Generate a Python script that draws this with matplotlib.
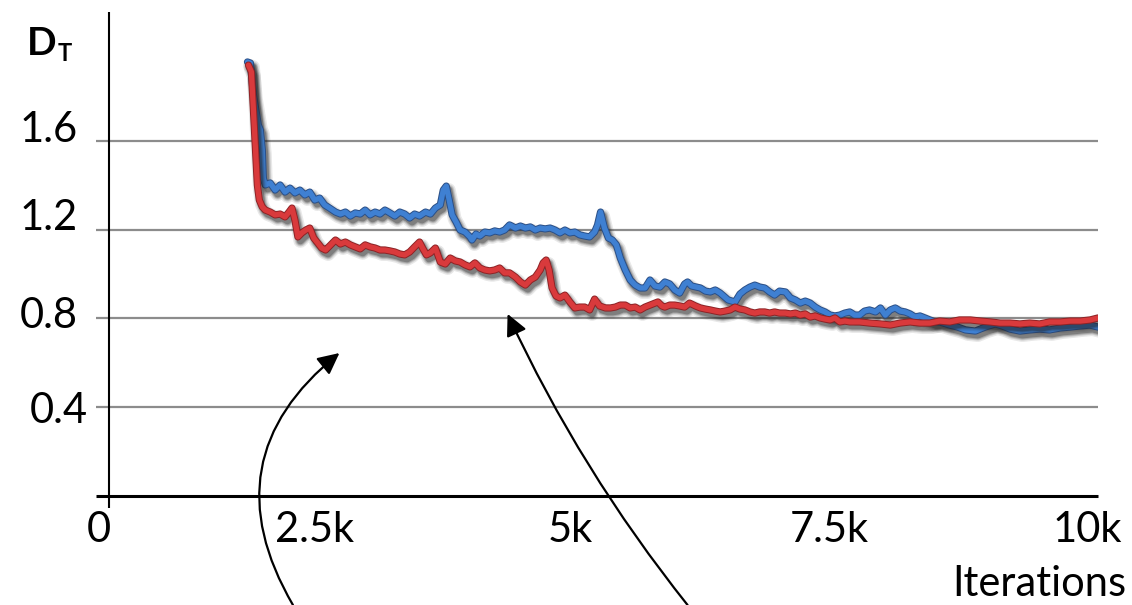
import matplotlib
matplotlib.use("Agg")
import matplotlib.pyplot as plt
import matplotlib.patheffects as pe
from matplotlib.transforms import offset_copy

plt.rcParams["font.family"] = ["Lato", "DejaVu Sans"]

# Training curves: iterations (thousands) vs. D_T
blue_x = [1.40, 1.43, 1.46, 1.51, 1.53, 1.55, 1.56, 1.58, 1.63, 1.68, 1.73, 1.78, 1.83, 1.88,
          1.93, 1.98, 2.03, 2.08, 2.13, 2.18, 2.23, 2.29, 2.34, 2.39, 2.44, 2.49, 2.54, 2.59,
          2.64, 2.69, 2.74, 2.79, 2.84, 2.89, 2.94, 2.99, 3.04, 3.09, 3.14, 3.20, 3.25, 3.30,
          3.35, 3.38, 3.41, 3.44, 3.47, 3.51, 3.55, 3.60, 3.65, 3.67, 3.71, 3.75, 3.80, 3.85,
          3.90, 3.95, 4.00, 4.05, 4.11, 4.16, 4.21, 4.26, 4.31, 4.36, 4.41, 4.46, 4.51, 4.56,
          4.61, 4.66, 4.71, 4.76, 4.81, 4.86, 4.91, 4.94, 4.97, 5.01, 5.05, 5.09, 5.13, 5.17,
          5.22, 5.27, 5.32, 5.37, 5.42, 5.47, 5.52, 5.57, 5.62, 5.67, 5.72, 5.77, 5.82, 5.85,
          5.89, 5.98, 6.03, 6.08, 6.13, 6.18, 6.26, 6.33, 6.38, 6.43, 6.48, 6.53, 6.58, 6.63,
          6.68, 6.73, 6.78, 6.84, 6.89, 6.94, 6.99, 7.04, 7.09, 7.14, 7.19, 7.24, 7.29, 7.34,
          7.39, 7.44, 7.49, 7.54, 7.59, 7.64, 7.69, 7.75, 7.80, 7.85, 7.90, 7.95, 8.00, 8.05,
          8.10, 8.15, 8.20, 8.25, 8.30, 8.35, 8.40, 8.50, 8.58, 8.66, 8.76, 8.86, 8.96, 9.03,
          9.11, 9.21, 9.31, 9.41, 9.51, 9.62, 9.72, 9.82, 9.92, 10.00]
blue_y = [1.955, 1.950, 1.806, 1.671, 1.649, 1.559, 1.432, 1.401, 1.410, 1.378, 1.401, 1.369,
          1.387, 1.365, 1.378, 1.356, 1.369, 1.333, 1.342, 1.311, 1.297, 1.279, 1.270, 1.279,
          1.261, 1.275, 1.270, 1.288, 1.266, 1.279, 1.270, 1.288, 1.275, 1.261, 1.279, 1.270,
          1.252, 1.270, 1.261, 1.279, 1.270, 1.297, 1.311, 1.378, 1.396, 1.333, 1.266, 1.234,
          1.198, 1.189, 1.167, 1.153, 1.180, 1.171, 1.189, 1.185, 1.194, 1.189, 1.198, 1.221,
          1.207, 1.216, 1.207, 1.212, 1.198, 1.207, 1.203, 1.207, 1.198, 1.185, 1.198, 1.185,
          1.189, 1.176, 1.171, 1.167, 1.189, 1.221, 1.279, 1.207, 1.162, 1.153, 1.131, 1.072,
          1.018, 0.973, 0.950, 0.937, 0.937, 0.973, 0.946, 0.941, 0.964, 0.955, 0.928, 0.914,
          0.955, 0.964, 0.946, 0.937, 0.923, 0.919, 0.928, 0.914, 0.883, 0.874, 0.910, 0.928,
          0.941, 0.950, 0.941, 0.937, 0.919, 0.905, 0.923, 0.919, 0.892, 0.883, 0.869, 0.878,
          0.869, 0.851, 0.838, 0.829, 0.815, 0.811, 0.815, 0.824, 0.829, 0.815, 0.815, 0.833,
          0.838, 0.829, 0.847, 0.815, 0.838, 0.847, 0.833, 0.829, 0.820, 0.806, 0.811, 0.802,
          0.793, 0.784, 0.784, 0.770, 0.761, 0.748, 0.743, 0.761, 0.775, 0.766, 0.752, 0.743,
          0.748, 0.752, 0.748, 0.757, 0.761, 0.766, 0.770, 0.761]

red_x = [1.41, 1.44, 1.46, 1.48, 1.50, 1.52, 1.55, 1.58, 1.63, 1.68, 1.73, 1.78, 1.82, 1.85,
         1.88, 1.91, 1.95, 1.99, 2.03, 2.07, 2.11, 2.15, 2.19, 2.23, 2.29, 2.34, 2.39, 2.44,
         2.49, 2.54, 2.59, 2.64, 2.69, 2.74, 2.79, 2.84, 2.89, 2.94, 2.99, 3.04, 3.09, 3.14,
         3.17, 3.21, 3.25, 3.30, 3.35, 3.40, 3.45, 3.50, 3.55, 3.60, 3.65, 3.70, 3.75, 3.80,
         3.85, 3.90, 3.95, 4.00, 4.05, 4.11, 4.16, 4.21, 4.26, 4.31, 4.36, 4.39, 4.42, 4.45,
         4.48, 4.52, 4.56, 4.61, 4.66, 4.71, 4.76, 4.81, 4.86, 4.91, 4.96, 5.02, 5.07, 5.12,
         5.17, 5.22, 5.27, 5.32, 5.37, 5.42, 5.47, 5.52, 5.55, 5.59, 5.62, 5.67, 5.72, 5.77,
         5.82, 5.87, 5.93, 5.98, 6.03, 6.08, 6.13, 6.18, 6.23, 6.28, 6.33, 6.38, 6.43, 6.48,
         6.53, 6.58, 6.63, 6.68, 6.73, 6.78, 6.84, 6.89, 6.94, 6.99, 7.04, 7.09, 7.14, 7.19,
         7.24, 7.29, 7.34, 7.39, 7.44, 7.49, 7.59, 7.69, 7.80, 7.90, 8.00, 8.10, 8.20, 8.30,
         8.40, 8.50, 8.60, 8.71, 8.81, 8.91, 9.01, 9.11, 9.21, 9.31, 9.41, 9.51, 9.62, 9.72,
         9.82, 9.92, 10.00]
red_y = [1.941, 1.910, 1.739, 1.559, 1.401, 1.333, 1.302, 1.288, 1.279, 1.266, 1.270, 1.257,
         1.279, 1.297, 1.243, 1.167, 1.185, 1.198, 1.207, 1.162, 1.140, 1.117, 1.108, 1.126,
         1.153, 1.135, 1.144, 1.131, 1.122, 1.113, 1.131, 1.122, 1.117, 1.108, 1.108, 1.104,
         1.099, 1.090, 1.086, 1.099, 1.122, 1.144, 1.117, 1.086, 1.095, 1.117, 1.054, 1.045,
         1.072, 1.059, 1.054, 1.041, 1.032, 1.050, 1.027, 1.018, 1.014, 1.018, 1.027, 1.005,
         1.005, 0.986, 0.964, 0.950, 0.973, 0.986, 1.018, 1.050, 1.063, 1.018, 0.937, 0.901,
         0.892, 0.905, 0.874, 0.847, 0.851, 0.851, 0.838, 0.887, 0.856, 0.847, 0.847, 0.851,
         0.860, 0.860, 0.847, 0.851, 0.838, 0.851, 0.860, 0.869, 0.874, 0.856, 0.851, 0.860,
         0.860, 0.856, 0.851, 0.869, 0.856, 0.847, 0.842, 0.838, 0.833, 0.829, 0.833, 0.838,
         0.851, 0.842, 0.838, 0.829, 0.824, 0.829, 0.829, 0.824, 0.829, 0.824, 0.824, 0.820,
         0.824, 0.815, 0.820, 0.806, 0.811, 0.802, 0.797, 0.793, 0.802, 0.784, 0.788, 0.784,
         0.784, 0.779, 0.775, 0.770, 0.779, 0.784, 0.779, 0.779, 0.788, 0.784, 0.793, 0.793,
         0.788, 0.784, 0.779, 0.779, 0.775, 0.779, 0.775, 0.784, 0.784, 0.788, 0.788, 0.793,
         0.802]

y_ticks = [0.4, 0.8, 1.2, 1.6]
y_tick_labels = ["0.4", "0.8", "1.2", "1.6"]
x_ticks = [0, 2.5, 5, 7.5, 10]
x_tick_labels = ["0", "2.5k", "5k", "7.5k", "10k"]

fig = plt.figure(figsize=(11.32, 6.05), dpi=100)
W, H = 1132, 605
ax = fig.add_axes([109 / W, 109 / H, 989 / W, 484 / H])
ax.set_xlim(0, 10)
ax.set_ylim(0, 2.18)
ax.axis("off")

# horizontal grid lines, extending slightly left of the vertical axis
for v in y_ticks:
    ax.plot([-0.13, 10], [v, v], color="#8c8c8c", lw=1.6, clip_on=False, zorder=1,
            solid_capstyle="butt")
# axes lines
ax.plot([-0.13, 10], [0, 0], color="black", lw=2.2, clip_on=False, zorder=2,
        solid_capstyle="butt")
ax.plot([0, 0], [-0.054, 2.18], color="black", lw=1.5, clip_on=False, zorder=2,
        solid_capstyle="butt")

# y tick labels (offsets in pixels: right edge, baseline)
y_offsets = {"0.4": (-21, -16), "0.8": (-31, -10), "1.2": (-31, 0), "1.6": (-31, -1)}
for v, lab in zip(y_ticks, y_tick_labels):
    dx, dy = y_offsets[lab]
    ax.annotate(lab, xy=(0, v), xytext=(dx, dy), textcoords="offset pixels",
                ha="right", va="baseline", fontsize=30, annotation_clip=False)

# x tick labels
x_offsets = [-10, -42, -33, -21, -11]
for v, lab, dx in zip(x_ticks, x_tick_labels, x_offsets):
    ax.annotate(lab, xy=(v, 0), xytext=(dx, -46), textcoords="offset pixels",
                ha="center", va="baseline", fontsize=30, annotation_clip=False)

fig.text(1126 / W, (H - 596) / H, "Iterations", ha="right", va="baseline", fontsize=30)

# y-axis title: bold D with a smaller T on the same baseline
d_txt = fig.text(27 / W, (H - 55) / H, "D", ha="left", va="baseline", fontsize=28,
                 fontweight="bold")
ax.annotate("T", xy=(1, 0), xycoords=d_txt, xytext=(1, 0), textcoords="offset pixels",
            ha="left", va="baseline", fontsize=17, fontweight="bold",
            annotation_clip=False)


def draw_series(x, y, color, edge, z):
    # soft drop shadow built from a few translucent passes
    for lw, a in [(10, 0.10), (8, 0.14), (6.5, 0.2), (5, 0.3)]:
        tr = offset_copy(ax.transData, fig=fig, x=2.5, y=-4, units="dots")
        ax.plot(x, y, color="#202020", lw=lw, alpha=a, transform=tr,
                solid_joinstyle="round", solid_capstyle="round", zorder=z)
    ax.plot(x, y, color=color, lw=3.8, solid_joinstyle="round", solid_capstyle="round",
            zorder=z + 0.5,
            path_effects=[pe.Stroke(linewidth=5.2, foreground=edge), pe.Normal()])


draw_series(blue_x, blue_y, "#3f80d2", "#2b4f86", 3)
draw_series(red_x, red_y, "#d93a3c", "#8d2326", 4)

# curved pointer arrows
arrow_kw = dict(arrowstyle="-|>,head_length=0.65,head_width=0.32", color="black", lw=1.6,
                mutation_scale=20, shrinkA=0, shrinkB=0)
ax.annotate("", xy=(2.33, 0.644), xytext=(1.86, -0.491), annotation_clip=False,
            arrowprops=dict(connectionstyle="arc3,rad=-0.43", **arrow_kw))
ax.annotate("", xy=(4.03, 0.820), xytext=(5.85, -0.491), annotation_clip=False,
            arrowprops=dict(connectionstyle="arc3,rad=-0.06", **arrow_kw))

fig.savefig("out.png", dpi=100)
